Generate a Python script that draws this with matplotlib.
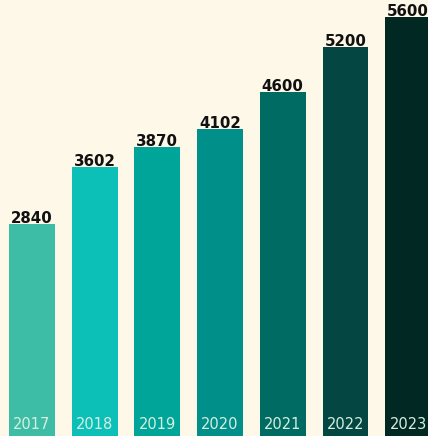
import matplotlib

matplotlib.use("Agg")
import matplotlib.pyplot as plt

years = ["2017", "2018", "2019", "2020", "2021", "2022", "2023"]
values = [2840, 3602, 3870, 4102, 4600, 5200, 5600]
colors = ["#3dbda5", "#0cc0b8", "#00a59a", "#008f89", "#006b63", "#034642", "#022824"]

BG = "#fef8e8"

fig = plt.figure(figsize=(4.28, 4.36), dpi=100, facecolor=BG)
ax = fig.add_axes([0, 0, 1, 1])
ax.set_facecolor(BG)

xs = list(range(len(years)))
ax.bar(xs, values, width=0.73, color=colors)

for x, v, yr in zip(xs, values, years):
    ax.text(x, v + 12, f"{v}", ha="center", va="baseline",
            fontsize=10.8, fontweight="bold", family="DejaVu Sans", color="#111111")
    ax.text(x, 90, yr, ha="center", va="baseline",
            fontsize=10.5, fontweight="normal", family="DejaVu Sans", color="#d6efe0")

ax.set_xlim(-0.51, 6.316)
ax.set_ylim(0, 5830)
ax.axis("off")

fig.savefig("out.png", dpi=100, facecolor=BG)
